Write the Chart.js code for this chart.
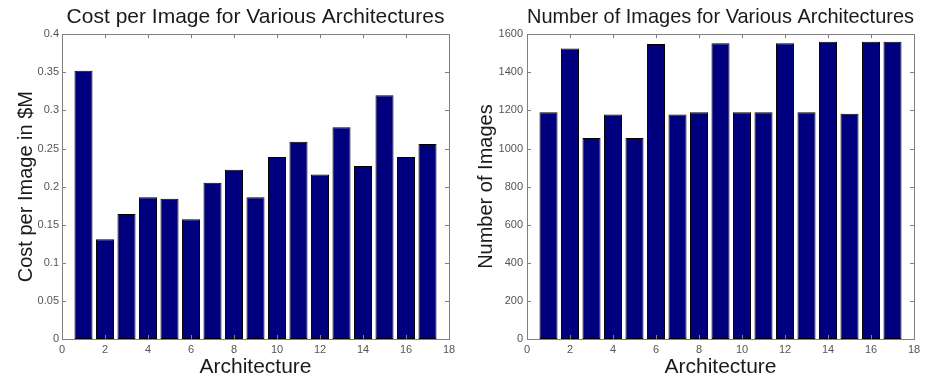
<!DOCTYPE html>
<html>
<head>
<meta charset="utf-8">
<script src="https://cdn.jsdelivr.net/npm/chart.js@4/dist/chart.umd.min.js"></script>
<style>
  html, body { margin: 0; padding: 0; background: #fff; }
  #wrap { width: 942px; height: 378px; position: relative; }
  canvas { position: absolute; top: 0; }
</style>
</head>
<body>
<div id="wrap">
  <canvas id="c1" width="471" height="378" style="left:0px"></canvas>
  <canvas id="c2" width="471" height="378" style="left:471px"></canvas>
</div>
<script>
// ---- Data ----
const architectures = [1, 2, 3, 4, 5, 6, 7, 8, 9, 10, 11, 12, 13, 14, 15, 16, 17];
const costPerImage = [0.352, 0.131, 0.164, 0.186, 0.184, 0.157, 0.205, 0.222, 0.186, 0.239, 0.259, 0.216, 0.278, 0.227, 0.320, 0.239, 0.256];
const numberOfImages = [1190, 1525, 1055, 1178, 1055, 1548, 1178, 1190, 1552, 1190, 1190, 1552, 1190, 1560, 1183, 1560, 1560];
const xTicks = [0, 2, 4, 6, 8, 10, 12, 14, 16, 18];
const costTicks = [0, 0.05, 0.1, 0.15, 0.2, 0.25, 0.3, 0.35, 0.4];
const countTicks = [0, 200, 400, 600, 800, 1000, 1200, 1400, 1600];

const FONT = "'Liberation Sans', Arial, Helvetica, sans-serif";

// Box + inward ticks (MATLAB style)
const boxPlugin = {
  id: 'boxPlugin',
  afterDraw(chart) {
    const ctx = chart.ctx;
    const a = chart.chartArea;
    const xs = chart.scales.x, ys = chart.scales.y;
    ctx.save();
    ctx.strokeStyle = '#808080';
    ctx.lineWidth = 1;
    ctx.strokeRect(Math.round(a.left) + 0.5, Math.round(a.top) + 0.5,
                   Math.round(a.right - a.left), Math.round(a.bottom - a.top));
    const L = 4;
    ctx.beginPath();
    xs.ticks.forEach(t => {
      const px = Math.round(xs.getPixelForValue(t.value)) + 0.5;
      ctx.moveTo(px, a.bottom); ctx.lineTo(px, a.bottom - L);
      ctx.moveTo(px, a.top); ctx.lineTo(px, a.top + L);
    });
    ys.ticks.forEach(t => {
      const py = Math.round(ys.getPixelForValue(t.value)) + 0.5;
      ctx.moveTo(a.left, py); ctx.lineTo(a.left + L, py);
      ctx.moveTo(a.right, py); ctx.lineTo(a.right - L, py);
    });
    ctx.stroke();
    ctx.restore();
  }
};

function makeChart(id, values, yTicks, yMax, title, yTitle, opts) {
  return new Chart(document.getElementById(id), {
    type: 'bar',
    data: {
      datasets: [{
        data: architectures.map((a, i) => ({ x: a, y: values[i] })),
        backgroundColor: '#00007f',
        borderColor: '#000000',
        borderWidth: 1,
        borderSkipped: false,
        barPercentage: 0.84,
        categoryPercentage: 1.0
      }]
    },
    options: {
      responsive: false,
      animation: false,
      devicePixelRatio: 1,
      layout: { padding: { left: 0, right: opts.rightPad, top: 0, bottom: 0 } },
      plugins: {
        legend: { display: false },
        tooltip: { enabled: false },
        title: {
          display: true,
          text: title,
          fullSize: false,
          color: '#1a1a1a',
          font: { family: FONT, size: 21, weight: 'normal' },
          padding: { top: 5, bottom: 4 }
        }
      },
      scales: {
        x: {
          type: 'linear',
          min: 0, max: 18,
          offset: false,
          afterBuildTicks: s => { s.ticks = xTicks.map(v => ({ value: v })); },
          afterFit: s => { s.height = 39; },
          grid: { display: false, drawTicks: false },
          border: { display: false },
          ticks: { color: '#555', font: { family: FONT, size: 11 }, padding: 4, maxRotation: 0, autoSkip: false },
          title: { display: true, text: 'Architecture', color: '#1a1a1a',
                   font: { family: FONT, size: 21, lineHeight: 1 }, padding: { top: 0, bottom: 0 } }
        },
        y: {
          min: 0, max: yMax,
          afterBuildTicks: s => { s.ticks = yTicks.map(v => ({ value: v })); },
          afterFit: s => { s.width = opts.yWidth; },
          grid: { display: false, drawTicks: false },
          border: { display: false },
          ticks: { color: '#555', font: { family: FONT, size: 11 }, padding: opts.tickPad,
                   callback: v => String(v) },
          title: { display: true, text: yTitle, color: '#1a1a1a',
                   font: { family: FONT, size: 20, lineHeight: 1 }, padding: { top: opts.yTitlePad, bottom: 0 } }
        }
      }
    },
    plugins: [boxPlugin]
  });
}

makeChart('c1', costPerImage, costTicks, 0.4,
  'Cost per Image for Various Architectures', 'Cost per Image in $M',
  { rightPad: 22, yWidth: 62, tickPad: 3, yTitlePad: 16 });
makeChart('c2', numberOfImages, countTicks, 1600,
  'Number of Images for Various Architectures', 'Number of Images',
  { rightPad: 28, yWidth: 56, tickPad: 4, yTitlePad: 5 });
</script>
</body>
</html>
